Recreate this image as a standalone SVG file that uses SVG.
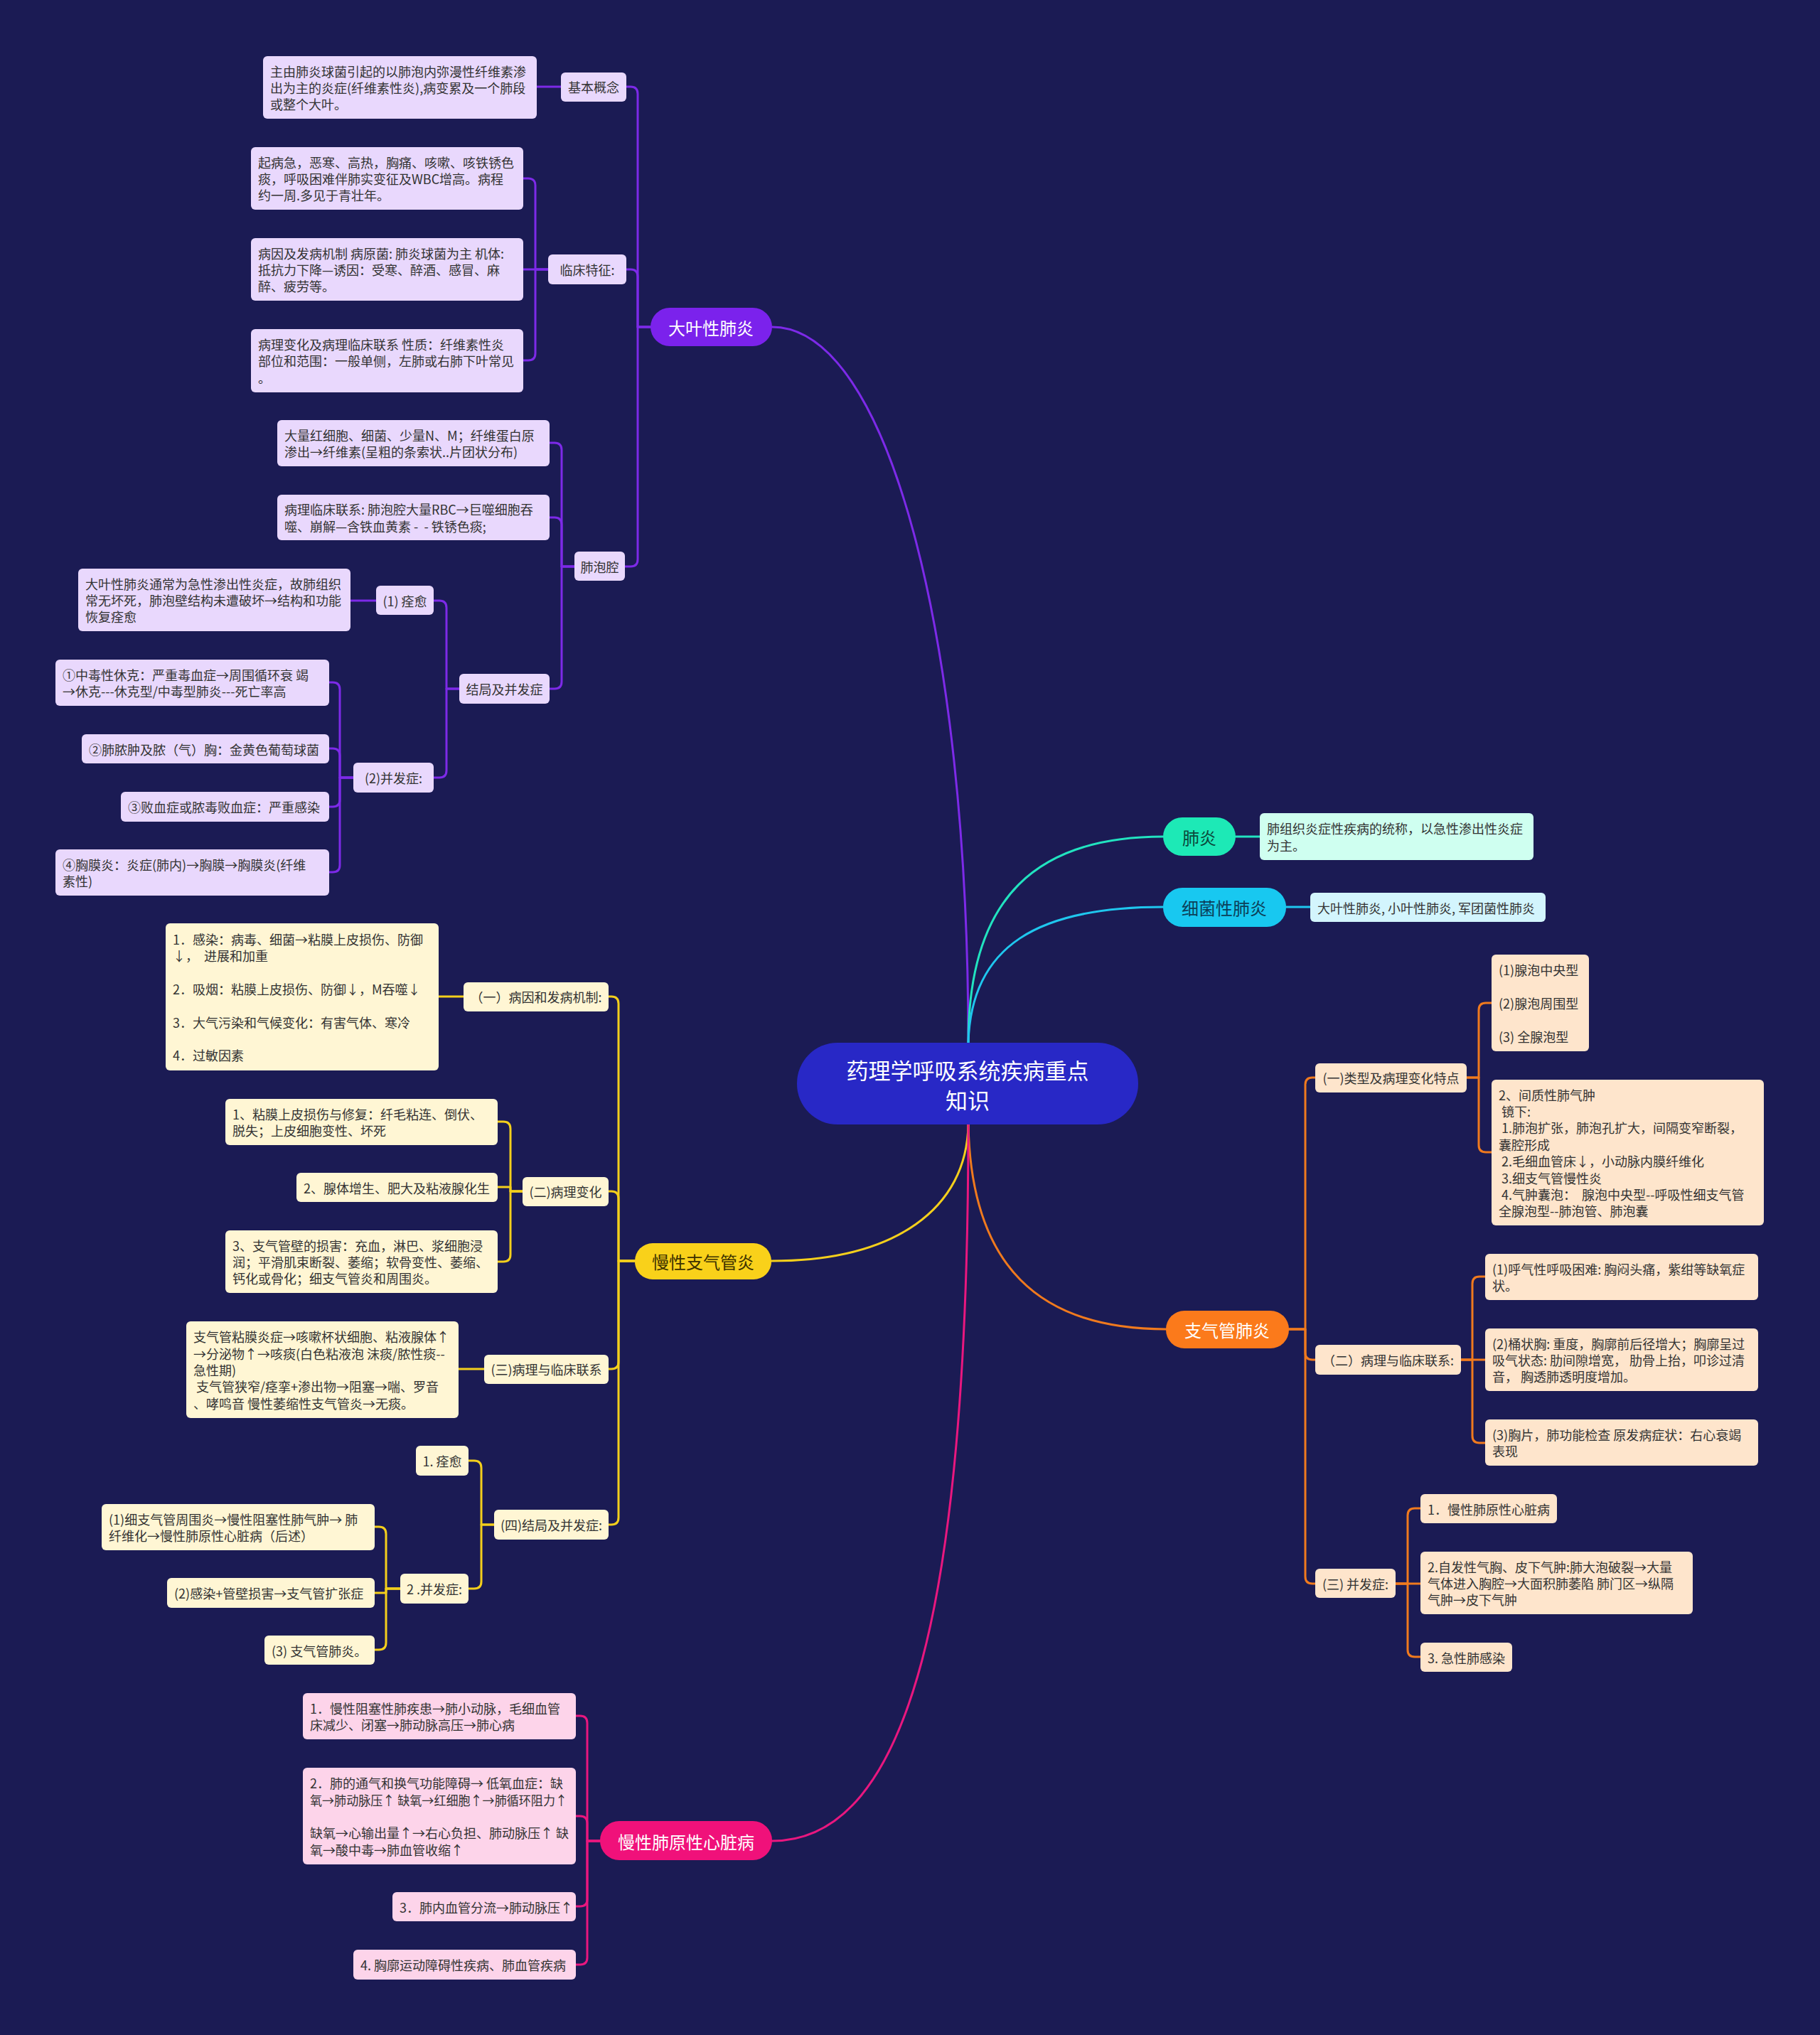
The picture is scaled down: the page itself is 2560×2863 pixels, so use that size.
<svg xmlns="http://www.w3.org/2000/svg" width="2560" height="2863" viewBox="0 0 2560 2863">
<style>
text{font-family:"Noto Sans CJK SC","Noto Sans",sans-serif;dominant-baseline:central;white-space:pre}
.t{font-size:18px;fill:#333}
.lbl{font-size:18px;fill:#333;text-anchor:middle}
.pill{font-size:24px;text-anchor:middle}
.w{fill:#fff}
.cn{fill:none;stroke-width:3;stroke-linecap:round;stroke-linejoin:round}
.pu{stroke:#7d2ae8}.ye{stroke:#f4cf1c}.pk{stroke:#e9177f}.or{stroke:#f07a1e}.te{stroke:#22e3c0}.cy{stroke:#1fc7ee}
.bpu{fill:#e9d8fd}.bye{fill:#fff6d4}.bpk{fill:#fdd4ea}.bor{fill:#fee5cc}.bte{fill:#cffff0}.bcy{fill:#d3f5fd}
</style>
<rect x="0" y="0" width="2560" height="2863" fill="#1b1b54"/>
<g id="connectors">
<path class="cn pu" d="M1362,1467 C1362,900 1250,460 1086,460"/>
<path class="cn te" d="M1362,1467 C1362,1260 1460,1177 1636,1177"/>
<path class="cn cy" d="M1362,1467 C1366,1330 1460,1276 1636,1276"/>
<path class="cn or" d="M1362,1582 C1366,1780 1460,1870 1640,1870"/>
<path class="cn ye" d="M1362,1582 C1360,1700 1260,1774 1085,1774"/>
<path class="cn pk" d="M1362,1582 C1362,2250 1280,2590 1086,2590"/>
<path class="cn pu" d="M915,460 H897 V132 Q897,122 887,122 H881"/>
<path class="cn pu" d="M915,460 H897 V389 Q897,379 887,379 H881"/>
<path class="cn pu" d="M915,460 H897 V787 Q897,797 887,797 H879"/>
<path class="cn pu" d="M789,122 H755"/>
<path class="cn pu" d="M771,379 H753 V261 Q753,251 743,251 H736"/>
<path class="cn pu" d="M771,379 H736"/>
<path class="cn pu" d="M771,379 H753 V497 Q753,507 743,507 H736"/>
<path class="cn pu" d="M808,797 H790 V633 Q790,623 780,623 H773"/>
<path class="cn pu" d="M808,797 H790 V738 Q790,728 780,728 H773"/>
<path class="cn pu" d="M808,797 H790 V959 Q790,969 780,969 H773"/>
<path class="cn pu" d="M646,969 H628 V855 Q628,845 618,845 H610"/>
<path class="cn pu" d="M646,969 H628 V1084 Q628,1094 618,1094 H610"/>
<path class="cn pu" d="M529,845 H493"/>
<path class="cn pu" d="M497,1094 H478 V970 Q478,960 468,960 H463"/>
<path class="cn pu" d="M497,1094 H478 V1063 Q478,1053 468,1053 H463"/>
<path class="cn pu" d="M497,1094 H478 V1125 Q478,1135 468,1135 H463"/>
<path class="cn pu" d="M497,1094 H478 V1217 Q478,1227 468,1227 H463"/>
<path class="cn ye" d="M893,1774 H870 V1412 Q870,1402 860,1402 H856"/>
<path class="cn ye" d="M893,1774 H870 V1686 Q870,1676 860,1676 H856"/>
<path class="cn ye" d="M893,1774 H870 V1916 Q870,1926 860,1926 H856"/>
<path class="cn ye" d="M893,1774 H870 V2135 Q870,2145 860,2145 H856"/>
<path class="cn ye" d="M652,1402 H617"/>
<path class="cn ye" d="M735,1676 H718 V1588 Q718,1578 708,1578 H700"/>
<path class="cn ye" d="M735,1676 H718 V1670 H700"/>
<path class="cn ye" d="M735,1676 H718 V1765 Q718,1775 708,1775 H700"/>
<path class="cn ye" d="M681,1926 H645"/>
<path class="cn ye" d="M695,2145 H677 V2065 Q677,2055 667,2055 H659"/>
<path class="cn ye" d="M695,2145 H677 V2225 Q677,2235 667,2235 H659"/>
<path class="cn ye" d="M563,2235 H543 V2158 Q543,2148 533,2148 H527"/>
<path class="cn ye" d="M563,2235 H543 V2241 H527"/>
<path class="cn ye" d="M563,2235 H543 V2311 Q543,2321 533,2321 H527"/>
<path class="cn pk" d="M844,2590 H826 V2424 Q826,2414 816,2414 H810"/>
<path class="cn pk" d="M844,2590 H826 V2565 Q826,2555 816,2555 H810"/>
<path class="cn pk" d="M844,2590 H826 V2672 Q826,2682 816,2682 H810"/>
<path class="cn pk" d="M844,2590 H826 V2754 Q826,2764 816,2764 H810"/>
<path class="cn or" d="M1813,1870 H1836 V1526 Q1836,1516 1846,1516 H1850"/>
<path class="cn or" d="M1813,1870 H1836 V1903 Q1836,1913 1846,1913 H1850"/>
<path class="cn or" d="M1813,1870 H1836 V2218 Q1836,2228 1846,2228 H1850"/>
<path class="cn or" d="M2063,1516 H2080 V1421 Q2080,1411 2090,1411 H2098"/>
<path class="cn or" d="M2063,1516 H2080 V1611 Q2080,1621 2090,1621 H2098"/>
<path class="cn or" d="M2055,1913 H2071 V1806 Q2071,1796 2081,1796 H2089"/>
<path class="cn or" d="M2055,1913 H2089"/>
<path class="cn or" d="M2055,1913 H2071 V2020 Q2071,2030 2081,2030 H2089"/>
<path class="cn or" d="M1963,2228 H1980 V2132 Q1980,2122 1990,2122 H1998"/>
<path class="cn or" d="M1963,2228 H1998"/>
<path class="cn or" d="M1963,2228 H1980 V2321 Q1980,2331 1990,2331 H1998"/>
<path class="cn te" d="M1738,1177 H1772"/>
<path class="cn cy" d="M1809,1276 H1843"/>
</g>

<g id="root">
<rect x="1121" y="1467" width="480" height="115" rx="57" fill="#2828c6"/>
<text style="font-size:31px" fill="#fff" text-anchor="middle"><tspan x="1361" y="1504">药理学呼吸系统疾病重点</tspan><tspan x="1361" y="1546">知识</tspan></text>
</g>

<!-- Purple branch -->
<g id="n-daye">
<rect x="915" y="433" width="171" height="54" rx="27" fill="#7b22ec"/>
<text class="pill w" x="1000" y="460">大叶性肺炎</text>
</g>
<g id="n-jiben">
<rect x="789" y="102" width="92" height="41" rx="6" class="bpu"/>
<text class="lbl" x="835" y="122">基本概念</text>
</g>
<g id="n-jiben-1">
<rect x="370" y="79" width="385" height="88" rx="6" class="bpu"/>
<text class="t"><tspan x="380" y="100">主由肺炎球菌引起的以肺泡内弥漫性纤维素渗</tspan><tspan x="380" y="123">出为主的炎症(纤维素性炎),病变累及一个肺段</tspan><tspan x="380" y="146">或整个大叶。</tspan></text>
</g>
<g id="n-linchuang">
<rect x="771" y="358" width="110" height="42" rx="6" class="bpu"/>
<text class="lbl" x="826" y="379">临床特征:</text>
</g>
<g id="n-lc-1">
<rect x="353" y="207" width="383" height="88" rx="6" class="bpu"/>
<text class="t"><tspan x="363" y="228">起病急，恶寒、高热，胸痛、咳嗽、咳铁锈色</tspan><tspan x="363" y="251">痰，呼吸困难伴肺实变征及WBC增高。病程</tspan><tspan x="363" y="274">约一周.多见于青壮年。</tspan></text>
</g>
<g id="n-lc-2">
<rect x="353" y="335" width="383" height="88" rx="6" class="bpu"/>
<text class="t"><tspan x="363" y="356">病因及发病机制 病原菌: 肺炎球菌为主 机体:</tspan><tspan x="363" y="379">抵抗力下降—诱因：受寒、醉酒、感冒、麻</tspan><tspan x="363" y="402">醉、疲劳等。</tspan></text>
</g>
<g id="n-lc-3">
<rect x="353" y="463" width="383" height="89" rx="6" class="bpu"/>
<text class="t"><tspan x="363" y="484">病理变化及病理临床联系 性质：纤维素性炎</tspan><tspan x="363" y="507">部位和范围：一般单侧，左肺或右肺下叶常见</tspan><tspan x="363" y="531">。</tspan></text>
</g>
<g id="n-feipao">
<rect x="808" y="776" width="71" height="41" rx="6" class="bpu"/>
<text class="lbl" x="843.5" y="797">肺泡腔</text>
</g>
<g id="n-fp-1">
<rect x="390" y="591" width="383" height="65" rx="6" class="bpu"/>
<text class="t"><tspan x="400" y="612">大量红细胞、细菌、少量N、M；纤维蛋白原</tspan><tspan x="400" y="635">渗出→纤维素(呈粗的条索状..片团状分布)</tspan></text>
</g>
<g id="n-fp-2">
<rect x="390" y="696" width="383" height="64" rx="6" class="bpu"/>
<text class="t"><tspan x="400" y="716">病理临床联系: 肺泡腔大量RBC→巨噬细胞吞</tspan><tspan x="400" y="740">噬、崩解—含铁血黄素 -  - 铁锈色痰;</tspan></text>
</g>
<g id="n-jieju">
<rect x="646" y="948" width="127" height="42" rx="6" class="bpu"/>
<text class="lbl" x="709.5" y="969">结局及并发症</text>
</g>
<g id="n-quanyu">
<rect x="529" y="824" width="81" height="41" rx="6" class="bpu"/>
<text class="lbl" x="569.5" y="845">(1) 痊愈</text>
</g>
<g id="n-quanyu-1">
<rect x="110" y="800" width="383" height="88" rx="6" class="bpu"/>
<text class="t"><tspan x="120" y="821">大叶性肺炎通常为急性渗出性炎症，故肺组织</tspan><tspan x="120" y="844">常无坏死，肺泡壁结构未遭破坏→结构和功能</tspan><tspan x="120" y="867">恢复痊愈</tspan></text>
</g>
<g id="n-bingfa">
<rect x="497" y="1073" width="113" height="42" rx="6" class="bpu"/>
<text class="lbl" x="553.5" y="1094">(2)并发症:</text>
</g>
<g id="n-bf-1">
<rect x="78" y="928" width="385" height="65" rx="6" class="bpu"/>
<text class="t"><tspan x="88" y="949">①中毒性休克：严重毒血症→周围循环衰 竭</tspan><tspan x="88" y="972">→休克---休克型/中毒型肺炎---死亡率高</tspan></text>
</g>
<g id="n-bf-2">
<rect x="115" y="1033" width="348" height="41" rx="6" class="bpu"/>
<text class="t" x="125" y="1053.5">②肺脓肿及脓（气）胸：金黄色葡萄球菌</text>
</g>
<g id="n-bf-3">
<rect x="170" y="1114" width="293" height="42" rx="6" class="bpu"/>
<text class="t" x="180" y="1135">③败血症或脓毒败血症：严重感染</text>
</g>
<g id="n-bf-4">
<rect x="78" y="1195" width="385" height="65" rx="6" class="bpu"/>
<text class="t"><tspan x="88" y="1216">④胸膜炎：炎症(肺内)→胸膜→胸膜炎(纤维</tspan><tspan x="88" y="1239">素性)</tspan></text>
</g>

<!-- Teal / Cyan -->
<g id="n-feiyan">
<rect x="1636" y="1150" width="102" height="54" rx="27" fill="#1de9b6"/>
<text class="pill" fill="#0b4a3c" x="1687" y="1177">肺炎</text>
</g>
<g id="n-feiyan-1">
<rect x="1772" y="1144" width="385" height="66" rx="6" class="bte"/>
<text class="t"><tspan x="1782" y="1165">肺组织炎症性疾病的统称，以急性渗出性炎症</tspan><tspan x="1782" y="1189">为主。</tspan></text>
</g>
<g id="n-xijun">
<rect x="1636" y="1249" width="173" height="55" rx="27" fill="#18c8f0"/>
<text class="pill" fill="#0c3f58" x="1722" y="1276">细菌性肺炎</text>
</g>
<g id="n-xijun-1">
<rect x="1843" y="1256" width="331" height="41" rx="6" class="bcy"/>
<text class="t" x="1853" y="1276.5">大叶性肺炎, 小叶性肺炎, 军团菌性肺炎</text>
</g>

<!-- Orange -->
<g id="n-zqgfy">
<rect x="1640" y="1844" width="173" height="53" rx="26" fill="#fb7a1b"/>
<text class="pill w" x="1726" y="1870">支气管肺炎</text>
</g>
<g id="n-leixing">
<rect x="1850" y="1496" width="213" height="41" rx="6" class="bor"/>
<text class="lbl" x="1956.5" y="1516">(一)类型及病理变化特点</text>
</g>
<g id="n-lx-1">
<rect x="2098" y="1343" width="137" height="136" rx="6" class="bor"/>
<text class="t"><tspan x="2108" y="1364">(1)腺泡中央型</tspan><tspan x="2108" y="1411">(2)腺泡周围型</tspan><tspan x="2108" y="1458">(3) 全腺泡型</tspan></text>
</g>
<g id="n-lx-2">
<rect x="2098" y="1519" width="383" height="205" rx="6" class="bor"/>
<text class="t"><tspan x="2108" y="1540">2、间质性肺气肿</tspan><tspan x="2108" y="1563"> 镜下:</tspan><tspan x="2108" y="1586"> 1.肺泡扩张，肺泡孔扩大，间隔变窄断裂，</tspan><tspan x="2108" y="1610">囊腔形成</tspan><tspan x="2108" y="1633"> 2.毛细血管床↓，小动脉内膜纤维化</tspan><tspan x="2108" y="1657"> 3.细支气管慢性炎</tspan><tspan x="2108" y="1680"> 4.气肿囊泡：  腺泡中央型--呼吸性细支气管</tspan><tspan x="2108" y="1703">全腺泡型--肺泡管、肺泡囊</tspan></text>
</g>
<g id="n-bllc">
<rect x="1850" y="1892" width="205" height="42" rx="6" class="bor"/>
<text class="lbl" x="1952.5" y="1913">（二）病理与临床联系:</text>
</g>
<g id="n-bllc-1">
<rect x="2089" y="1764" width="384" height="65" rx="6" class="bor"/>
<text class="t"><tspan x="2099" y="1785">(1)呼气性呼吸困难: 胸闷头痛，紫绀等缺氧症</tspan><tspan x="2099" y="1808">状。</tspan></text>
</g>
<g id="n-bllc-2">
<rect x="2089" y="1869" width="384" height="88" rx="6" class="bor"/>
<text class="t"><tspan x="2099" y="1890">(2)桶状胸: 重度，胸廓前后径增大；胸廓呈过</tspan><tspan x="2099" y="1913">吸气状态: 肋间隙增宽， 肋骨上抬，叩诊过清</tspan><tspan x="2099" y="1936">音， 胸透肺透明度增加。</tspan></text>
</g>
<g id="n-bllc-3">
<rect x="2089" y="1997" width="384" height="65" rx="6" class="bor"/>
<text class="t"><tspan x="2099" y="2018">(3)胸片，肺功能检查 原发病症状：右心衰竭</tspan><tspan x="2099" y="2041">表现</tspan></text>
</g>
<g id="n-bfz">
<rect x="1850" y="2207" width="113" height="41" rx="6" class="bor"/>
<text class="lbl" x="1906.5" y="2228">(三) 并发症:</text>
</g>
<g id="n-bfz-1">
<rect x="1998" y="2102" width="192" height="41" rx="6" class="bor"/>
<text class="t" x="2008" y="2122.5">1．慢性肺原性心脏病</text>
</g>
<g id="n-bfz-2">
<rect x="1998" y="2183" width="383" height="88" rx="6" class="bor"/>
<text class="t"><tspan x="2008" y="2204">2.自发性气胸、皮下气肿:肺大泡破裂→大量</tspan><tspan x="2008" y="2227">气体进入胸腔→大面积肺萎陷 肺门区→纵隔</tspan><tspan x="2008" y="2250">气肿→皮下气肿</tspan></text>
</g>
<g id="n-bfz-3">
<rect x="1998" y="2311" width="129" height="41" rx="6" class="bor"/>
<text class="t" x="2008" y="2331.5">3. 急性肺感染</text>
</g>

<!-- Yellow -->
<g id="n-mxzqg">
<rect x="893" y="1749" width="192" height="51" rx="25" fill="#f9d11a"/>
<text class="pill" fill="#3d3200" x="989" y="1774">慢性支气管炎</text>
</g>
<g id="n-bingyin">
<rect x="652" y="1382" width="204" height="41" rx="6" class="bye"/>
<text class="lbl" x="754" y="1402">（一）病因和发病机制:</text>
</g>
<g id="n-bingyin-1">
<rect x="233" y="1299" width="384" height="207" rx="6" class="bye"/>
<text class="t"><tspan x="243" y="1321">1．感染：病毒、细菌→粘膜上皮损伤、防御</tspan><tspan x="243" y="1344">↓，  进展和加重</tspan><tspan x="243" y="1391">2．吸烟：粘膜上皮损伤、防御↓，M吞噬↓</tspan><tspan x="243" y="1438">3．大气污染和气候变化：有害气体、寒冷</tspan><tspan x="243" y="1484">4．过敏因素</tspan></text>
</g>
<g id="n-blbh">
<rect x="735" y="1656" width="121" height="41" rx="6" class="bye"/>
<text class="lbl" x="795.5" y="1676">(二)病理变化</text>
</g>
<g id="n-blbh-1">
<rect x="317" y="1546" width="383" height="65" rx="6" class="bye"/>
<text class="t"><tspan x="327" y="1567">1、粘膜上皮损伤与修复：纤毛粘连、倒伏、</tspan><tspan x="327" y="1590">脱失；上皮细胞变性、坏死</tspan></text>
</g>
<g id="n-blbh-2">
<rect x="417" y="1650" width="283" height="41" rx="6" class="bye"/>
<text class="t" x="427" y="1670.5">2、腺体增生、肥大及粘液腺化生</text>
</g>
<g id="n-blbh-3">
<rect x="317" y="1731" width="383" height="88" rx="6" class="bye"/>
<text class="t"><tspan x="327" y="1752">3、支气管壁的损害：充血，淋巴、浆细胞浸</tspan><tspan x="327" y="1775">润；平滑肌束断裂、萎缩；软骨变性、萎缩、</tspan><tspan x="327" y="1798">钙化或骨化；细支气管炎和周围炎。</tspan></text>
</g>
<g id="n-yblc">
<rect x="681" y="1906" width="175" height="41" rx="6" class="bye"/>
<text class="lbl" x="768.5" y="1926">(三)病理与临床联系</text>
</g>
<g id="n-yblc-1">
<rect x="262" y="1859" width="383" height="136" rx="6" class="bye"/>
<text class="t"><tspan x="272" y="1880">支气管粘膜炎症→咳嗽杯状细胞、粘液腺体↑</tspan><tspan x="272" y="1904">→分泌物↑→咳痰(白色粘液泡 沫痰/脓性痰--</tspan><tspan x="272" y="1927">急性期)</tspan><tspan x="272" y="1950"> 支气管狭窄/痉挛+渗出物→阻塞→喘、罗音</tspan><tspan x="272" y="1974">、哮鸣音 慢性萎缩性支气管炎→无痰。</tspan></text>
</g>
<g id="n-yjieju">
<rect x="695" y="2124" width="161" height="42" rx="6" class="bye"/>
<text class="lbl" x="775.5" y="2145">(四)结局及并发症:</text>
</g>
<g id="n-yquanyu">
<rect x="585" y="2034" width="74" height="42" rx="6" class="bye"/>
<text class="lbl" x="622" y="2055">1. 痊愈</text>
</g>
<g id="n-ybingfa">
<rect x="563" y="2214" width="96" height="42" rx="6" class="bye"/>
<text class="lbl" x="611" y="2235">2 .并发症:</text>
</g>
<g id="n-ybf-1">
<rect x="143" y="2116" width="384" height="65" rx="6" class="bye"/>
<text class="t"><tspan x="153" y="2137">(1)细支气管周围炎→慢性阻塞性肺气肿→ 肺</tspan><tspan x="153" y="2160">纤维化→慢性肺原性心脏病（后述）</tspan></text>
</g>
<g id="n-ybf-2">
<rect x="235" y="2220" width="292" height="42" rx="6" class="bye"/>
<text class="t" x="245" y="2241">(2)感染+管壁损害→支气管扩张症</text>
</g>
<g id="n-ybf-3">
<rect x="372" y="2301" width="155" height="41" rx="6" class="bye"/>
<text class="t" x="382" y="2321.5">(3) 支气管肺炎。</text>
</g>

<!-- Pink -->
<g id="n-mxfyx">
<rect x="844" y="2562" width="242" height="55" rx="27" fill="#f0117a"/>
<text class="pill w" x="965" y="2590">慢性肺原性心脏病</text>
</g>
<g id="n-pk-1">
<rect x="426" y="2382" width="384" height="65" rx="6" class="bpk"/>
<text class="t"><tspan x="436" y="2403">1．慢性阻塞性肺疾患→肺小动脉，毛细血管</tspan><tspan x="436" y="2426">床减少、闭塞→肺动脉高压→肺心病</tspan></text>
</g>
<g id="n-pk-2">
<rect x="426" y="2487" width="384" height="136" rx="6" class="bpk"/>
<text class="t"><tspan x="436" y="2508">2．肺的通气和换气功能障碍→ 低氧血症：缺</tspan><tspan x="436" y="2532" textLength="362" lengthAdjust="spacingAndGlyphs">氧→肺动脉压↑ 缺氧→红细胞↑→肺循环阻力↑</tspan><tspan x="436" y="2578">缺氧→心输出量↑→右心负担、肺动脉压↑ 缺</tspan><tspan x="436" y="2602">氧→酸中毒→肺血管收缩↑</tspan></text>
</g>
<g id="n-pk-3">
<rect x="552" y="2662" width="258" height="41" rx="6" class="bpk"/>
<text class="t" x="562" y="2682.5">3．肺内血管分流→肺动脉压↑</text>
</g>
<g id="n-pk-4">
<rect x="497" y="2743" width="313" height="42" rx="6" class="bpk"/>
<text class="t" x="507" y="2764">4. 胸廓运动障碍性疾病、肺血管疾病</text>
</g>
</svg>
